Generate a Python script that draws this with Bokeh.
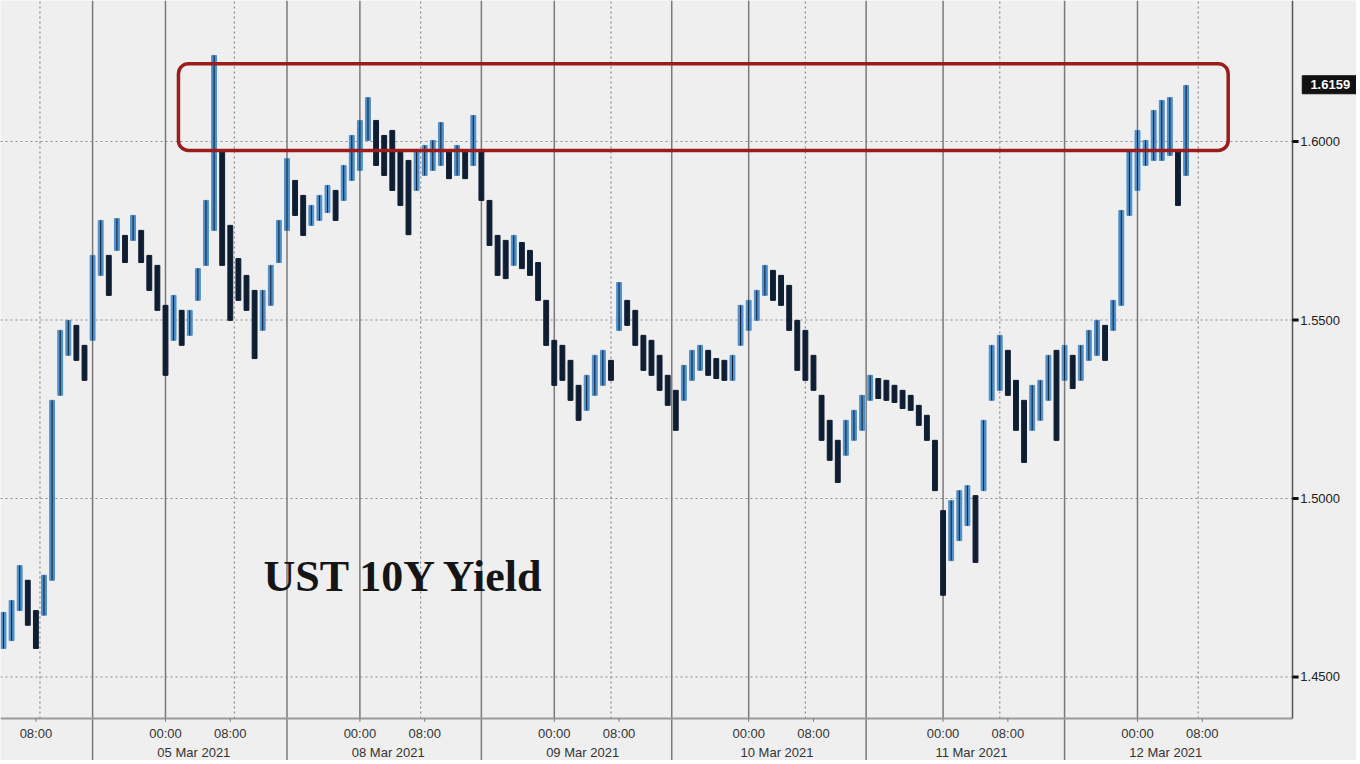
from bokeh.plotting import figure
from bokeh.models import Span, BoxAnnotation, Range1d, ColumnDataSource
from bokeh.core.properties import value
from bokeh.embed import file_html
from bokeh.resources import INLINE

# ---- data (hours on a compressed trading axis, 0 = 04 Mar 2021 00:00) ----
hours = list(range(4, 151))
high = [1.4681, 1.4714, 1.4812, 1.4771, 1.4686, 1.4785, 1.5275, 1.5471, 1.5499, 1.5485,
        1.5429, 1.5681, 1.5779, 1.5681, 1.5784, 1.5737, 1.5793, 1.5751, 1.5681, 1.5653,
        1.5541, 1.5569, 1.5527, 1.5527, 1.5644, 1.5835, 1.6241, 1.5975, 1.5765, 1.5672,
        1.5625, 1.5583, 1.5583, 1.5653, 1.5779, 1.5952, 1.5891, 1.5849, 1.5821, 1.5849,
        1.5877, 1.5863, 1.5933, 1.6017, 1.6059, 1.6123, 1.6059, 1.6017, 1.6031, 1.5975,
        1.5947, 1.5975, 1.5989, 1.6003, 1.6053, 1.5975, 1.5989, 1.5975, 1.6073, 1.5975,
        1.5835, 1.5737, 1.5723, 1.5737, 1.5717, 1.5695, 1.5661, 1.5555, 1.5443, 1.5429,
        1.5387, 1.5317, 1.5345, 1.5401, 1.5415, 1.5387, 1.5605, 1.5555, 1.5527, 1.5457,
        1.5443, 1.5401, 1.5345, 1.5303, 1.5373, 1.5415, 1.5429, 1.5415, 1.5392, 1.5387,
        1.5401, 1.5541, 1.5555, 1.5583, 1.5653, 1.5639, 1.5625, 1.5597, 1.5499, 1.5471,
        1.5401, 1.5289, 1.5219, 1.5163, 1.5219, 1.5247, 1.5289, 1.5345, 1.5336, 1.5331,
        1.5317, 1.5303, 1.5289, 1.5261, 1.5233, 1.5163, 1.4966, 1.4994, 1.5022, 1.5036,
        1.5008, 1.5219, 1.5429, 1.5457, 1.5415, 1.5331, 1.5275, 1.5317, 1.5331, 1.5401,
        1.5415, 1.5429, 1.5401, 1.5429, 1.5471, 1.5499, 1.5485, 1.5555, 1.5807, 1.5975,
        1.6031, 1.6003, 1.6087, 1.6115, 1.6123, 1.5975, 1.6157]
low = [1.4580, 1.4602, 1.4686, 1.4645, 1.4580, 1.4673, 1.4771, 1.5289, 1.5401, 1.5387,
       1.5331, 1.5443, 1.5625, 1.5569, 1.5695, 1.5661, 1.5723, 1.5661, 1.5583, 1.5527,
       1.5345, 1.5443, 1.5429, 1.5457, 1.5555, 1.5653, 1.5751, 1.5653, 1.5499, 1.5555,
       1.5527, 1.5392, 1.5471, 1.5541, 1.5661, 1.5751, 1.5793, 1.5737, 1.5765, 1.5779,
       1.5801, 1.5779, 1.5835, 1.5891, 1.5919, 1.6003, 1.5933, 1.5905, 1.5863, 1.5821,
       1.5739, 1.5863, 1.5905, 1.5919, 1.5933, 1.5896, 1.5905, 1.5896, 1.5933, 1.5835,
       1.5709, 1.5625, 1.5616, 1.5653, 1.5644, 1.5625, 1.5555, 1.5429, 1.5317, 1.5331,
       1.5275, 1.5219, 1.5247, 1.5289, 1.5317, 1.5331, 1.5471, 1.5485, 1.5429, 1.5359,
       1.5345, 1.5303, 1.5261, 1.5191, 1.5275, 1.5331, 1.5359, 1.5345, 1.5336, 1.5331,
       1.5331, 1.5429, 1.5471, 1.5499, 1.5569, 1.5555, 1.5541, 1.5471, 1.5359, 1.5331,
       1.5303, 1.5163, 1.5107, 1.5045, 1.5121, 1.5163, 1.5191, 1.5275, 1.5280, 1.5275,
       1.5269, 1.5252, 1.5247, 1.5205, 1.5163, 1.5022, 1.4729, 1.4826, 1.4882, 1.4924,
       1.4821, 1.5022, 1.5275, 1.5303, 1.5289, 1.5191, 1.5101, 1.5191, 1.5219, 1.5275,
       1.5163, 1.5331, 1.5308, 1.5331, 1.5387, 1.5401, 1.5387, 1.5471, 1.5541, 1.5793,
       1.5863, 1.5933, 1.5947, 1.5947, 1.5961, 1.5821, 1.5905]
last_price = 1.6159

y_ticks = [1.45, 1.50, 1.55, 1.60]
y_labels = ["1.4500", "1.5000", "1.5500", "1.6000"]
time_ticks = [8, 24, 32, 48, 56, 72, 80, 96, 104, 120, 128, 144, 152]
time_labels = ["08:00", "00:00", "08:00", "00:00", "08:00", "00:00", "08:00",
               "00:00", "08:00", "00:00", "08:00", "00:00", "08:00"]
date_ticks = [27.5, 51.5, 75.5, 99.5, 123.5, 147.5]
date_labels = ["05 Mar 2021", "08 Mar 2021", "09 Mar 2021", "10 Mar 2021",
               "11 Mar 2021", "12 Mar 2021"]
day_starts = [24, 48, 72, 96, 120, 144]
session_lines = [15, 39, 63, 86.5, 110.5, 135]
morning_lines = [8.5, 32.5, 55.5, 79, 103, 127, 151.5]

# ---- layout constants (axis geometry inside one frame) ----
X0, X_AXIS, X_END = 3.630, 163.14, 171.04     # left edge, right axis position, right edge
Y_TOP, Y_AXIS, Y_BOT = 1.6395, 1.43838, 1.42661
Y_TIME, Y_DATE = 1.43418, 1.42886
X_YLAB, X_TAG = 164.1, 167.8

# ---- derived colours ----
mids = [(h + l) / 2 for h, l in zip(high, low)]
colors = []
for i, m in enumerate(mids):
    prev = mids[i - 1] if i > 0 else m
    colors.append("#4f8fc9" if m >= prev else "#0f1e33")

src = ColumnDataSource(dict(x=hours, top=high, bottom=low, color=colors))

BG = "#efefef"
p = figure(width=1356, height=760, output_backend="svg", toolbar_location=None,
           x_range=Range1d(X0, X_END), y_range=Range1d(Y_BOT, Y_TOP),
           min_border=0, background_fill_color=BG, border_fill_color=BG,
           outline_line_color=None)
p.axis.visible = False
p.grid.visible = False

FONT = value("Liberation Sans")

# horizontal dotted grid (stops at the right axis)
p.segment(x0=[X0] * len(y_ticks), x1=[X_AXIS] * len(y_ticks), y0=y_ticks, y1=y_ticks,
          line_color="#8a8a8a", line_width=1, line_dash="2 3")

# vertical guide lines
for v in session_lines:
    p.add_layout(Span(location=v, dimension="height", line_color="#7a7a7a",
                      line_width=1.5, level="underlay"))
p.segment(x0=day_starts, x1=day_starts, y0=[Y_AXIS] * len(day_starts),
          y1=[Y_TOP] * len(day_starts), line_color="#7a7a7a", line_width=1.5)
p.segment(x0=morning_lines, x1=morning_lines, y0=[Y_AXIS] * len(morning_lines),
          y1=[Y_TOP] * len(morning_lines), line_color="#8a8a8a", line_width=1.2,
          line_dash="2 3")

# price bars
p.vbar(x="x", width=0.6, top="top", bottom="bottom", color="color", source=src)
p.segment(x0="x", x1="x", y0="bottom", y1="top", color="#0f1e33", line_width=1, source=src)

# red highlight box
p.add_layout(BoxAnnotation(left=25.6, right=155.2, bottom=1.5975, top=1.6218,
                           fill_alpha=0, line_color="#9a1c1c", line_alpha=1,
                           line_width=3.5, border_radius=10))

# title text
p.text(x=[36.1], y=[1.4782], text=["UST 10Y Yield"], text_font=value("Liberation Serif"),
       text_font_style="bold", text_font_size="44px", text_color="#151515",
       text_baseline="alphabetic", text_align="left")

# axes lines
p.segment(x0=[X0], x1=[X_AXIS], y0=[Y_AXIS], y1=[Y_AXIS], line_color="#9a9a9a", line_width=2)
p.segment(x0=[X_AXIS], x1=[X_AXIS], y0=[Y_AXIS], y1=[Y_TOP], line_color="#555555",
          line_width=1.5)

# y axis ticks + labels
p.segment(x0=[X_AXIS] * len(y_ticks), x1=[X_AXIS + 0.75] * len(y_ticks), y0=y_ticks,
          y1=y_ticks, line_color="#111111", line_width=3)
p.text(x=[X_YLAB] * len(y_ticks), y=y_ticks, text=y_labels, text_font=FONT,
       text_font_size="13px", text_color="#222222", text_baseline="middle",
       text_align="left")

# last price tag
p.rect(x=[X_TAG], y=[last_price], width=56, height=18, width_units="screen",
       height_units="screen", fill_color="#111111", line_color="#111111")
p.text(x=[X_TAG], y=[last_price], text=[f"{last_price:.4f}"], text_font=FONT,
       text_font_style="bold", text_font_size="13px", text_color="white",
       text_baseline="middle", text_align="center")

# x axis ticks + labels
p.segment(x0=time_ticks, x1=time_ticks, y0=[Y_AXIS] * len(time_ticks),
          y1=[Y_AXIS - 0.0009] * len(time_ticks), line_color="#777777", line_width=1)
p.text(x=time_ticks, y=[Y_TIME] * len(time_ticks), text=time_labels, text_font=FONT,
       text_font_size="13px", text_color="#333333", text_baseline="middle",
       text_align="center")
p.text(x=date_ticks, y=[Y_DATE] * len(date_ticks), text=date_labels, text_font=FONT,
       text_font_size="13px", text_color="#333333", text_baseline="middle",
       text_align="center")

open("out.html", "w").write(file_html(p, INLINE))
